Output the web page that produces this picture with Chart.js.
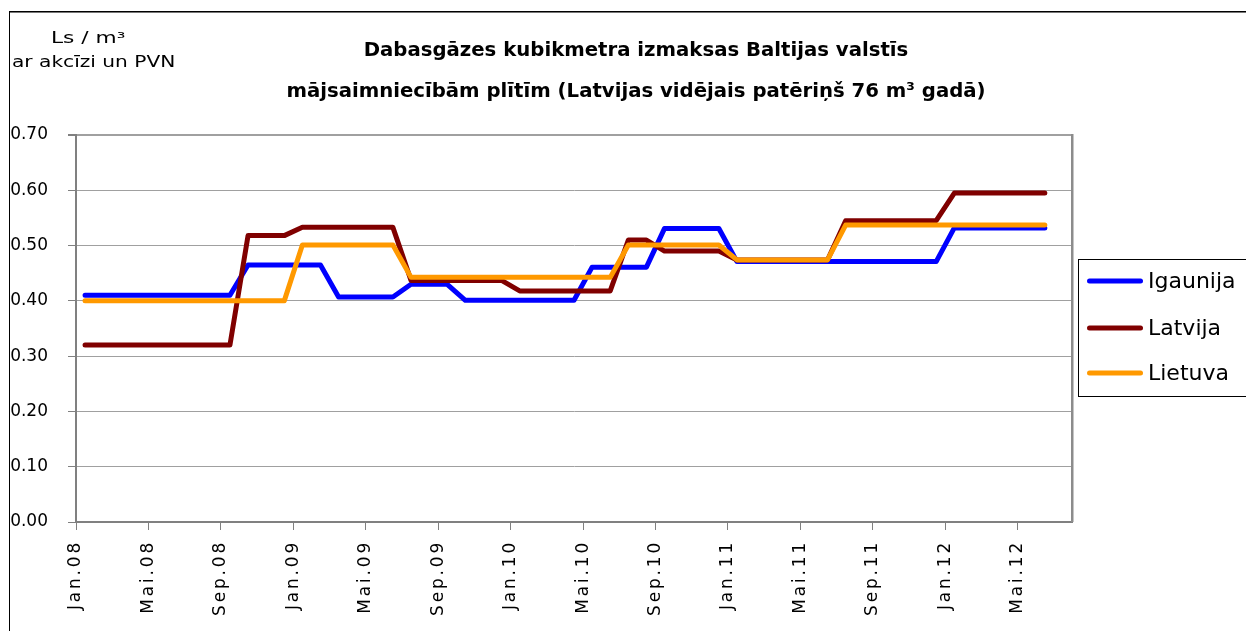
<!DOCTYPE html>
<html>
<head>
<meta charset="utf-8">
<script src="https://cdn.jsdelivr.net/npm/chart.js@4.4.1/dist/chart.umd.min.js"></script>
<style>
  html, body { margin: 0; padding: 0; background: #ffffff; }
  #wrap { width: 1246px; height: 631px; position: relative; overflow: hidden; }
  canvas { display: block; }
</style>
</head>
<body>
<div id="wrap"><canvas id="c" width="1246" height="631"></canvas></div>
<script>
// ---- data ----
const months = [
  'Jan.08','Feb.08','Mar.08','Apr.08','Mai.08','Jūn.08','Jūl.08','Aug.08','Sep.08','Okt.08','Nov.08','Dec.08',
  'Jan.09','Feb.09','Mar.09','Apr.09','Mai.09','Jūn.09','Jūl.09','Aug.09','Sep.09','Okt.09','Nov.09','Dec.09',
  'Jan.10','Feb.10','Mar.10','Apr.10','Mai.10','Jūn.10','Jūl.10','Aug.10','Sep.10','Okt.10','Nov.10','Dec.10',
  'Jan.11','Feb.11','Mar.11','Apr.11','Mai.11','Jūn.11','Jūl.11','Aug.11','Sep.11','Okt.11','Nov.11','Dec.11',
  'Jan.12','Feb.12','Mar.12','Apr.12','Mai.12','Jūn.12','Jūl.12'
];
const igaunija = [
  0.41,0.41,0.41,0.41,0.41,0.41,0.41,0.41,0.41,
  0.465,0.465,0.465,0.465,0.465,
  0.407,0.407,0.407,0.407,
  0.43,0.43,0.43,
  0.401,0.401,0.401,0.401,0.401,0.401,0.401,
  0.461,0.461,0.461,0.461,
  0.531,0.531,0.531,0.531,
  0.471,0.471,0.471,0.471,0.471,0.471,0.471,0.471,0.471,0.471,0.471,0.471,
  0.532,0.532,0.532,0.532,0.532,0.532
];
const latvija = [
  0.32,0.32,0.32,0.32,0.32,0.32,0.32,0.32,0.32,
  0.518,0.518,0.518,
  0.533,0.533,0.533,0.533,0.533,0.533,
  0.437,0.437,0.437,0.437,0.437,0.437,
  0.418,0.418,0.418,0.418,0.418,0.418,
  0.51,0.51,
  0.49,0.49,0.49,0.49,
  0.474,0.474,0.474,0.474,0.474,0.474,
  0.545,0.545,0.545,0.545,0.545,0.545,
  0.595,0.595,0.595,0.595,0.595,0.595
];
const lietuva = [
  0.40,0.40,0.40,0.40,0.40,0.40,0.40,0.40,0.40,0.40,0.40,0.40,
  0.501,0.501,0.501,0.501,0.501,0.501,
  0.4425,0.4425,0.4425,0.4425,0.4425,0.4425,0.4425,0.4425,0.4425,0.4425,0.4425,0.4425,
  0.501,0.501,0.501,0.501,0.501,0.501,
  0.474,0.474,0.474,0.474,0.474,0.474,
  0.537,0.537,0.537,0.537,0.537,0.537,0.537,0.537,0.537,0.537,0.537,0.537
];
const seriesNames = ['Igaunija','Latvija','Lietuva'];
const yTickLabels = ['0.00','0.10','0.20','0.30','0.40','0.50','0.60','0.70'];
const titleLines = [
  'Dabasgāzes kubikmetra izmaksas Baltijas valstīs',
  'mājsaimniecībām plītīm (Latvijas vidējais patēriņš 76 m³ gadā)'
];
const unitLines = ['Ls / m³', 'ar akcīzi un PVN'];

// ---- styles ----
const colors = ['#0000ff', '#800000', '#ff9900'];
const FONT = "'DejaVu Sans', 'Noto Sans', sans-serif";

const framePlugin = {
  id: 'frame',
  beforeDraw(chart) {
    const c = chart.ctx;
    c.save();
    c.fillStyle = '#ffffff';
    c.fillRect(0, 0, chart.width, chart.height);
    c.fillStyle = '#000000';
    c.fillRect(9, 11, 1, chart.height);
    c.fillRect(9, 11, chart.width, 1);
    c.fillStyle = '#777777';
    c.fillRect(10, 12, chart.width, 1);
    c.restore();
    // letter spacing for x labels
    const s = chart.scales.x;
    if (s && !s.__patched) {
      const orig = s.drawLabels;
      s.drawLabels = function (area) {
        const cx = this.ctx;
        cx.save();
        try { cx.letterSpacing = '2.8px'; } catch (e) {}
        orig.call(this, area);
        cx.restore();
      };
      s.__patched = true;
    }
  },
  beforeDatasetsDraw(chart) {
    const a = chart.chartArea;
    const c = chart.ctx;
    c.save();
    c.fillStyle = '#8c8c8c';
    c.fillRect(a.right - 1, a.top - 1, 2.5, a.bottom - a.top + 1);
    c.restore();
  },
  afterDraw(chart) {
    const c = chart.ctx;
    const a = chart.chartArea;
    c.save();
    c.fillStyle = '#000000';
    // title
    c.font = "bold 19.7px " + FONT;
    c.textAlign = 'center';
    c.textBaseline = 'alphabetic';
    c.fillText(titleLines[0], 636, 56);
    c.fillText(titleLines[1], 636, 97);
    // unit labels
    c.textAlign = 'left';
    c.font = "15.5px " + FONT;
    c.save(); c.translate(51, 43); c.scale(1.4, 1); c.fillText(unitLines[0], 0, 0); c.restore();
    c.save(); c.translate(12, 67); c.scale(1.3, 1); c.fillText(unitLines[1], 0, 0); c.restore();
    // legend
    const lx = a.right + 6, ly = 259;
    c.strokeStyle = '#000000';
    c.lineWidth = 1;
    c.strokeRect(lx + 0.5, ly + 0.5, 400, 137);
    const rows = [281, 328, 373];
    c.font = "22px " + FONT;
    c.textBaseline = 'middle';
    chart.data.datasets.forEach((ds, i) => {
      c.strokeStyle = ds.borderColor;
      c.lineWidth = 5;
      c.lineCap = 'round';
      c.beginPath();
      c.moveTo(lx + 11.5, rows[i]);
      c.lineTo(lx + 62.5, rows[i]);
      c.stroke();
      c.fillStyle = '#000000';
      c.fillText(ds.label, lx + 70, rows[i] + 1);
    });
    c.restore();
  }
};

const mk = (i, data, order) => ({
  label: seriesNames[i],
  data: data,
  borderColor: colors[i],
  backgroundColor: colors[i],
  borderWidth: 5,
  borderCapStyle: 'round',
  borderJoinStyle: 'round',
  pointRadius: 0,
  tension: 0,
  fill: false,
  order: order
});

new Chart(document.getElementById('c'), {
  type: 'line',
  data: {
    labels: months,
    datasets: [mk(0, igaunija, 3), mk(1, latvija, 2), mk(2, lietuva, 1)]
  },
  options: {
    responsive: false,
    animation: false,
    devicePixelRatio: 1,
    layout: { padding: { left: 10, top: 135, right: 174, bottom: 0 } },
    plugins: {
      legend: { display: false },
      title: { display: false },
      tooltip: { enabled: false }
    },
    scales: {
      x: {
        type: 'category',
        offset: true,
        grid: {
          offset: true,
          drawOnChartArea: false,
          tickLength: 8,
          tickWidth: 1,
          tickColor: (c) => (c.index % 4 === 0 ? '#808080' : 'rgba(0,0,0,0)')
        },
        border: { color: '#808080', width: 2 },
        ticks: {
          autoSkip: false,
          minRotation: 90,
          maxRotation: 90,
          labelOffset: -9,
          padding: 10,
          color: '#000000',
          font: { family: FONT, size: 17 },
          callback: (v, i) => (i % 4 === 0 ? months[i] : '')
        },
        afterFit: (s) => { s.height = 109; }
      },
      y: {
        min: 0,
        max: 0.7,
        grid: {
          color: '#a0a0a0',
          lineWidth: (c) => (c.index === 7 ? 2 : 1),
          tickLength: 8,
          tickColor: '#808080'
        },
        border: { color: '#808080', width: 2 },
        ticks: {
          stepSize: 0.1,
          padding: 20,
          color: '#000000',
          font: { family: FONT, size: 17 },
          callback: (v, i) => yTickLabels[i]
        },
        afterFit: (s) => { s.width = 66; }
      }
    }
  },
  plugins: [framePlugin]
});
</script>
</body>
</html>
